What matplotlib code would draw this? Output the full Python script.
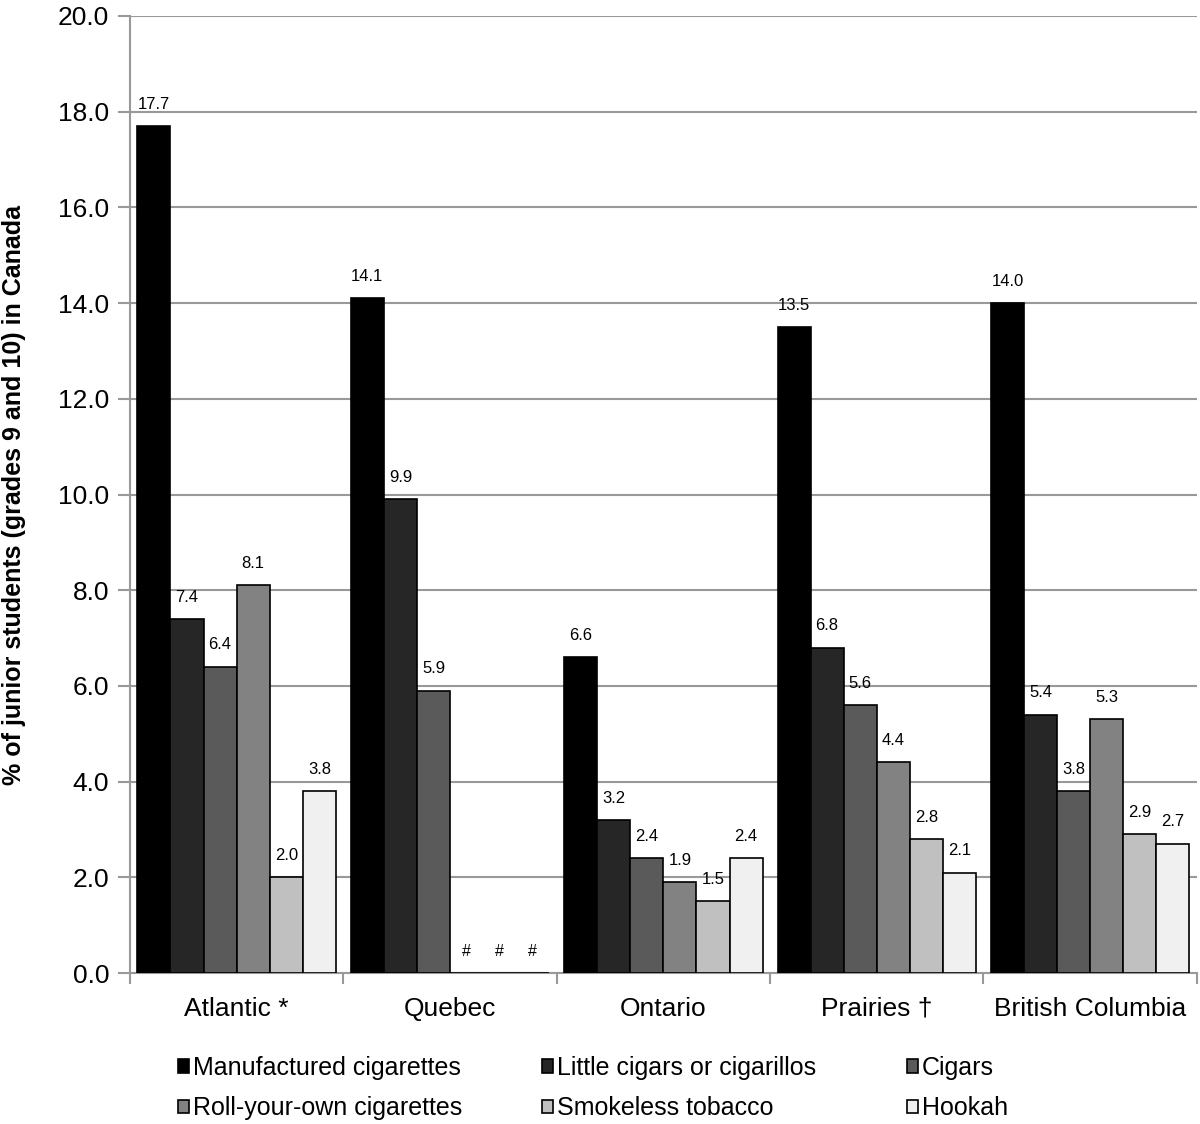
import numpy as np
import matplotlib
matplotlib.use("Agg")
import matplotlib.pyplot as plt

plt.rcParams['font.family'] = ['Liberation Sans', 'DejaVu Sans']

regions = ['Atlantic *', 'Quebec', 'Ontario', 'Prairies \u2020', 'British Columbia']
products = ['Manufactured cigarettes', 'Little cigars or cigarillos', 'Cigars',
            'Roll-your-own cigarettes', 'Smokeless tobacco', 'Hookah']
colors = ['#000000', '#262626', '#5a5a5a', '#828282', '#c0c0c0', '#f0f0f0']

# None = suppressed value (shown as #)
manufactured = [17.7, 14.1, 6.6, 13.5, 14.0]
little_cigars = [7.4, 9.9, 3.2, 6.8, 5.4]
cigars = [6.4, 5.9, 2.4, 5.6, 3.8]
roll_your_own = [8.1, None, 1.9, 4.4, 5.3]
smokeless = [2.0, None, 1.5, 2.8, 2.9]
hookah = [3.8, None, 2.4, 2.1, 2.7]
series = [manufactured, little_cigars, cigars, roll_your_own, smokeless, hookah]

fig = plt.figure(figsize=(12, 11.24), dpi=100)
ax = fig.add_axes([0.1083, 0.1343, 0.889, 0.8515])

x = np.arange(len(regions))
w = 0.155
handles = []
for i, (vals, col, name) in enumerate(zip(series, colors, products)):
    pos = x - 2.5 * w + i * w
    h = [v if v is not None else 0 for v in vals]
    bars = ax.bar(pos, h, w, color=col, edgecolor='black', linewidth=1.2, label=name, zorder=3)
    handles.append(bars)
    for p, v in zip(pos, vals):
        if v is None:
            ax.text(p, 0.3, '#', ha='center', va='bottom', fontsize=11.5)
        else:
            ax.text(p, v + 0.3, f'{v:.1f}', ha='center', va='bottom', fontsize=12)

ax.set_xlim(-0.5, len(regions) - 0.5)
ax.set_ylim(0, 20)
yt = np.arange(0, 20.1, 2)
ax.set_yticks(yt)
ax.set_yticklabels([f'{t:.1f}' for t in yt], fontsize=19)
ax.set_xticks(x)
ax.set_xticklabels(regions, fontsize=19)
ax.set_xticks(np.arange(-0.5, len(regions), 1), minor=True)
ax.tick_params(axis='x', which='major', length=0, pad=17)
ax.tick_params(axis='x', which='minor', length=8, color='#999999', width=1.5)
ax.tick_params(axis='y', length=9, color='#999999', width=1.5, pad=6)
ax.yaxis.grid(True, color='#999999', linewidth=1.5, zorder=0)
ax.set_axisbelow(True)
for s in ['top', 'right']:
    ax.spines[s].set_visible(False)
for s in ['left', 'bottom']:
    ax.spines[s].set_color('#999999')
    ax.spines[s].set_linewidth(1.5)

ax.set_ylabel('% of junior students (grades 9 and 10) in Canada', fontsize=18,
              fontweight='bold')
ax.yaxis.set_label_coords(-0.0975, 0.5)

# legend: three equal-width columns, two rows each
col_x = [0.1483, 0.4517, 0.7558]
for c, lx in enumerate(col_x):
    idx = [c, c + 3]
    fig.legend([handles[k] for k in idx], [products[k] for k in idx],
               loc='center left', bbox_to_anchor=(lx, 0.032), borderaxespad=0, borderpad=0,
               frameon=False, fontsize=18, handlelength=0.45, handleheight=0.45,
               handletextpad=0.16, labelspacing=0.65)

fig.savefig('out.png', dpi=100)
